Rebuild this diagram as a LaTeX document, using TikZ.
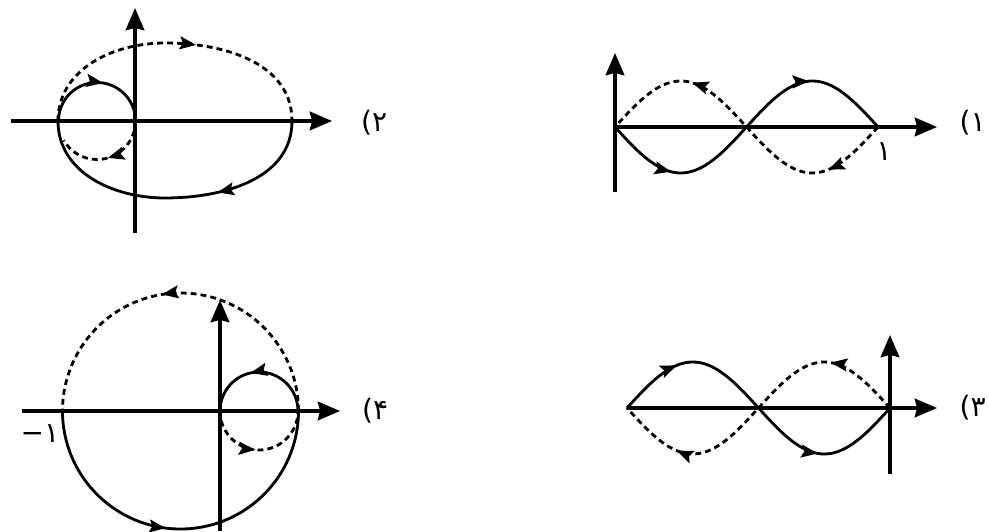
\documentclass[tikz,border=0pt]{standalone}
\usepackage{fontspec}
\newfontfamily\fafont{DejaVu Sans}
\usetikzlibrary{arrows.meta,decorations.markings}

\begin{document}
\begin{tikzpicture}[x=0.03cm,y=0.03cm,
    axis/.style={line width=2.6pt,-{Stealth[length=19pt,width=16pt,inset=2pt]}},
    curve/.style={line width=2.4pt},
    dashcurve/.style={curve,dash pattern=on 5pt off 3.5pt},
    midarrow/.style={postaction={decorate,decoration={markings,
        mark=at position #1 with {\arrow{Stealth[length=14pt,width=11pt,inset=2.5pt]}}}}},
    lbl/.style={inner sep=0pt,font=\fafont\fontsize{24}{26}\selectfont}]
    \useasboundingbox (0,0) rectangle (989,531);

    % (2) top left
    \draw[axis] (11,410) -- (332,410);
    \draw[axis] (135,298) -- (135,523);
    \draw[dashcurve,midarrow=0.57] (58,410) to[out=90,in=180] (165,488) to[out=0,in=90] (292,410);
    \draw[curve,midarrow=0.36] (292,410) to[out=-90,in=0] (165,333) to[out=180,in=-90] (58,410);
    \draw[curve,midarrow=0.55] (58.5,410) arc[start angle=180,end angle=0,radius=38.5];
    \draw[dashcurve,midarrow=0.49] (135.5,410) arc[start angle=0,end angle=-150,radius=38.5];
    \node[lbl,anchor=west] (lab2) at (361,408) {(۲};

    % (1) top right
    \draw[axis] (615,404) -- (937,404);
    \draw[axis] (615,339) -- (615,478);
    \draw[curve,midarrow=0.22,midarrow=0.74] plot[domain=0:360,samples=73] ({615+\x/360*263},{404-46*sin(\x)});
    \draw[dashcurve,midarrow=0.2,midarrow=0.715] plot[domain=360:0,samples=73] ({615+\x/360*263},{404+46*sin(\x)});
    \node[lbl] (one1) at (884,379) {۱};
    \node[lbl,anchor=east] (lab1) at (986,408) {(۱};

    % (4) bottom left
    \draw[axis] (22,120) -- (340,120);
    \draw[axis] (220,0) -- (220,231);
    \draw[dashcurve,midarrow=0.55] (298.5,120) arc[start angle=0,end angle=180,radius=118];
    \draw[curve,midarrow=0.46] (62.5,120) arc[start angle=180,end angle=360,radius=118];
    \draw[curve,midarrow=0.57] (298,120) arc[start angle=0,end angle=180,radius=39];
    \draw[dashcurve,midarrow=0.47] (220,120) arc[start angle=180,end angle=360,radius=39];
    \node[lbl] (mone4) at (40,97) {−۱};
    \node[lbl,anchor=west] (lab4) at (362,120) {(۴};

    % (3) bottom right
    \draw[axis] (627,123) -- (937,123);
    \draw[axis] (890,57) -- (890,196);
    \draw[curve,midarrow=0.2,midarrow=0.73] plot[domain=0:360,samples=73] ({627+\x/360*263},{123+46*sin(\x)});
    \draw[dashcurve,midarrow=0.23,midarrow=0.8] plot[domain=360:0,samples=73] ({627+\x/360*263},{123-46*sin(\x)});
    \node[lbl,anchor=east] (lab3) at (986,123) {(۳};
\end{tikzpicture}
\end{document}
